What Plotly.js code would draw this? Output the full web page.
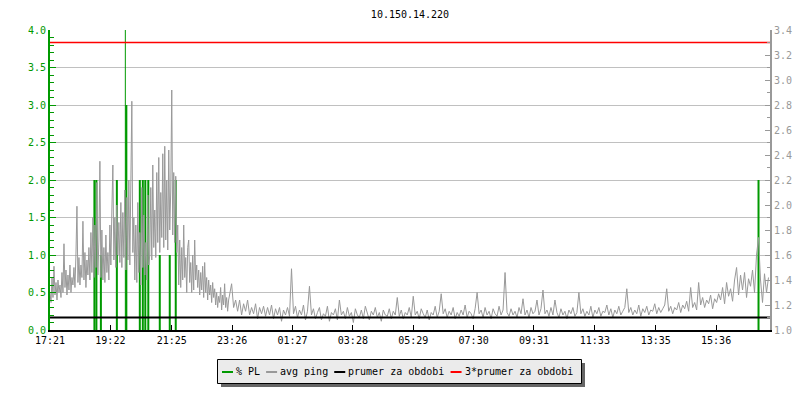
<!DOCTYPE html>
<html>
<head>
<meta charset="utf-8">
<script src="https://cdn.plot.ly/plotly-3.0.1.min.js"></script>
<style>html,body{margin:0;padding:0;background:#fff;}#chart{width:800px;height:400px;}</style>
</head>
<body>
<div id="chart"></div>
<script>
// ---- data ----
const chartTitle = '10.150.14.220';
const startTime = '2024-05-14 17:21';
const endTime = '2024-05-15 17:24';

// avg ping (right axis): busy evening part, one sample every 2 minutes from 17:21
const pingEarlyStepMin = 2;
const pingEarly = [
  1.30,1.22,1.42,1.26,1.51,1.28,1.38,1.24,1.40,1.30,
  1.36,1.26,1.46,1.30,1.69,1.34,1.48,1.28,1.44,1.32,1.52,1.30,1.42,1.36,1.50,
  1.34,1.60,1.99,1.38,1.58,1.36,1.52,1.42,1.87,1.40,1.62,1.34,1.56,1.44,1.66,
  1.40,1.78,1.46,1.90,1.42,1.84,1.50,2.18,1.44,1.72,
  2.35,1.42,1.80,1.40,1.66,1.38,1.76,1.46,1.62,1.40,
  1.84,1.52,1.96,2.32,1.56,1.90,1.50,2.00,1.60,1.86,
  1.54,2.02,1.50,1.94,1.58,2.12,1.48,2.06,1.56,2.20,1.52,2.44,2.83,1.62,1.90,
  1.40,1.84,1.38,2.02,1.46,1.78,1.36,2.14,1.50,1.92,1.44,1.70,1.40,2.08,1.52,
  1.60,2.14,1.56,2.32,1.66,1.96,1.58,2.26,1.70,2.38,1.62,2.10,1.74,2.41,1.66,
  2.47,1.72,2.20,1.64,2.44,1.80,2.12,2.92,1.76,2.26,1.70,2.23,1.62,
  1.84,1.36,1.72,1.34,1.66,1.40,1.84,
  1.42,1.58,1.30,1.66,1.72,1.38,1.54,1.30,1.60,1.32,1.72,1.40,1.52,1.34,1.48,
  1.28,1.46,1.32,1.51,1.26,1.54,1.30,1.42,1.24,1.40,1.28,1.36,1.22,1.38,1.26,
  1.33,1.20,1.30,1.18,1.27,1.22,1.34,1.16,1.28,1.20,1.37,1.18,1.26,1.15,1.24
];

// avg ping (right axis): quiet part, one sample every 4 minutes from 23:25
const pingLateStart = '2024-05-14 23:25';
const pingLateStepMin = 4;
const pingLate = [
  1.37,1.18,1.24,1.15,1.24,1.12,1.21,1.15,1.24,1.12,1.18,1.13,1.21,1.09,
  1.18,1.13,1.19,1.11,1.18,1.12,1.20,1.09,1.17,1.12,1.18,1.07,1.16,1.12,1.18,1.11,
  1.49,1.13,1.19,1.10,1.16,1.12,1.20,1.08,1.15,1.35,
  1.12,1.17,1.09,1.14,1.18,1.08,1.13,1.11,1.19,1.07,1.14,1.12,1.17,1.08,1.24,
  1.12,1.15,1.09,1.18,1.11,1.14,1.06,1.17,1.12,1.10,1.16,1.09,1.19,1.13,1.08,1.15,1.12,1.18,1.10,1.14,1.07,1.16,1.12,1.11,1.17,1.09,1.15,1.12,
  1.26,1.11,1.16,1.09,1.14,1.12,1.18,1.10,1.27,
  1.12,1.15,1.09,1.17,1.13,1.10,1.16,1.08,1.14,1.12,1.19,1.10,1.15,1.29,
  1.13,1.17,1.10,1.15,1.12,1.18,1.09,1.14,1.11,1.16,1.12,1.20,1.10,1.15,1.13,1.09,1.17,1.30,
  1.13,1.16,1.10,1.18,1.12,1.15,1.09,1.17,1.13,1.11,1.19,1.12,1.16,1.46,
  1.14,1.11,1.17,1.12,1.15,1.10,1.18,1.13,1.25,1.12,1.16,1.10,1.18,1.13,1.15,1.24,1.12,1.17,1.32,
  1.13,1.16,1.11,1.18,1.12,1.24,1.14,1.10,1.17,1.12,1.15,1.09,1.16,1.13,1.18,1.11,1.14,1.30,
  1.13,1.17,1.11,1.15,1.12,1.19,1.10,1.16,1.13,1.18,1.11,1.15,1.14,1.20,1.12,1.17,1.10,1.16,1.13,1.19,1.12,1.15,1.18,1.33,
  1.14,1.18,1.12,1.16,1.13,1.20,1.11,1.17,1.14,1.19,1.12,1.16,1.15,1.21,1.13,1.18,1.14,1.17,1.20,1.33,
  1.15,1.19,1.13,1.18,1.16,1.22,1.14,1.20,1.17,1.23,1.15,1.34,1.18,1.22,1.16,1.38,
  1.20,1.26,1.18,1.24,1.21,1.28,1.17,1.25,1.22,1.29,
  1.24,1.34,1.21,1.38,1.27,1.33,1.23,1.40,1.50,
  1.28,1.44,1.32,1.46,1.26,1.41,1.35,1.48,1.30,1.60,1.74,1.40,1.22,1.45,1.30,1.42
];

// packet loss events (left axis, %)
const plTimes = [
  '2024-05-14 18:50','2024-05-14 18:54','2024-05-14 19:03','2024-05-14 19:35',
  '2024-05-14 19:52','2024-05-14 19:54','2024-05-14 20:21','2024-05-14 20:27',
  '2024-05-14 20:32','2024-05-14 20:38','2024-05-14 21:01','2024-05-14 21:21',
  '2024-05-14 21:33','2024-05-15 17:01'
];
const plValues = [2, 2, 1, 2, 4, 3, 2, 2, 2, 2, 1, 1, 2, 2];
const plWidths = [2, 2, 2, 2, 1, 2, 2, 2, 2, 2, 2, 2, 2, 2];

const periodMean = 1.1;       // prumer za obdobi
const periodMean3 = 3.3;      // 3*prumer za obdobi

const tickTimes = [
  '2024-05-14 17:21','2024-05-14 19:22','2024-05-14 21:25','2024-05-14 23:26',
  '2024-05-15 01:27','2024-05-15 03:28','2024-05-15 05:29','2024-05-15 07:30',
  '2024-05-15 09:31','2024-05-15 11:33','2024-05-15 13:35','2024-05-15 15:36'
];
const tickLabels = ['17:21','19:22','21:25','23:26','01:27','03:28','05:29','07:30','09:31','11:33','13:35','15:36'];

const legendNames = ['% PL', 'avg ping', 'prumer za obdobi', '3*prumer za obdobi'];
const legendColors = ['#009900', '#999999', '#000000', '#ff0000'];

// ---- build ----
function pad(n){ return (n < 10 ? '0' : '') + n; }
function fmt(d){
  return d.getFullYear() + '-' + pad(d.getMonth()+1) + '-' + pad(d.getDate()) + ' ' +
         pad(d.getHours()) + ':' + pad(d.getMinutes()) + ':' + pad(d.getSeconds());
}
function parse(s){
  const [d, t] = s.split(' '); const [Y, M, D] = d.split('-').map(Number); const [h, m] = t.split(':').map(Number);
  return new Date(Y, M - 1, D, h, m, 0);
}
const tEarly = parse(startTime), tLate = parse(pingLateStart);
const pingTimes = pingEarly.map((_, i) => fmt(new Date(tEarly.getTime() + i * pingEarlyStepMin * 60000)))
  .concat(pingLate.map((_, i) => fmt(new Date(tLate.getTime() + i * pingLateStepMin * 60000))));
const pingValues = pingEarly.concat(pingLate);

const FONT = 'DejaVu Sans Mono';
const traces = [];
plTimes.forEach((t, i) => {
  traces.push({ x: [t, t], y: [0, plValues[i]], type: 'scatter', mode: 'lines',
    line: { color: legendColors[0], width: plWidths[i] }, yaxis: 'y', name: legendNames[0], showlegend: false });
});
traces.push(
  { x: pingTimes, y: pingValues, type: 'scatter', mode: 'lines', line: { color: legendColors[1], width: 1 },
    yaxis: 'y2', name: legendNames[1], showlegend: false },
  { x: [startTime, endTime], y: [periodMean, periodMean], type: 'scatter', mode: 'lines',
    line: { color: legendColors[2], width: 2 }, yaxis: 'y2', name: legendNames[2], showlegend: false },
  { x: [startTime, endTime], y: [periodMean3, periodMean3], type: 'scatter', mode: 'lines',
    line: { color: legendColors[3], width: 1.5 }, yaxis: 'y2', name: legendNames[3], showlegend: false }
);

// manual legend (pixel layout converted to paper coordinates)
const L = 50, R = 770, T = 30, B = 330;
const px = v => (v - L) / (R - L);
const py = v => (B - v) / (B - T);
const shapes = [
  { type: 'rect', xref: 'paper', yref: 'paper', x0: px(221), x1: px(585), y0: py(387), y1: py(363),
    fillcolor: '#666666', line: { width: 0 } },
  { type: 'rect', xref: 'paper', yref: 'paper', x0: px(217.5), x1: px(581.5), y0: py(383.5), y1: py(359.5),
    fillcolor: '#ebebeb', line: { color: '#000000', width: 1 } }
];
const annotations = [];
let cx = 222;
const charW = 6.02;
legendNames.forEach((name, i) => {
  shapes.push({ type: 'line', xref: 'paper', yref: 'paper', x0: px(cx), x1: px(cx + 11), y0: py(372), y1: py(372),
    line: { color: legendColors[i], width: 2 } });
  annotations.push({ xref: 'paper', yref: 'paper', x: px(cx + 13), y: py(371.5), xanchor: 'left', yanchor: 'middle',
    text: name, showarrow: false, borderpad: 0, font: { family: FONT, size: 10, color: '#000000' } });
  cx += 11 + 3 + name.length * charW + 6;
});

const layout = {
  width: 800, height: 400,
  margin: { l: L, r: 800 - R, t: T, b: 400 - B, pad: 0 },
  paper_bgcolor: '#ffffff', plot_bgcolor: '#ffffff',
  showlegend: false,
  title: { text: chartTitle, font: { family: FONT, size: 10, color: '#000000' },
           x: 0.5, xref: 'paper', y: 1 - 14 / 400, yref: 'container', yanchor: 'middle' },
  xaxis: {
    type: 'date', range: [startTime, endTime], showgrid: false, zeroline: false,
    tickmode: 'array', tickvals: tickTimes, ticktext: tickLabels,
    ticks: 'inside', ticklen: 5, tickcolor: '#000000', tickwidth: 1,
    showline: true, linecolor: '#000000', linewidth: 2,
    tickfont: { family: FONT, size: 10, color: '#000000' }
  },
  yaxis: {
    range: [0, 4], dtick: 0.5, tick0: 0, tickformat: '.1f',
    showgrid: true, gridcolor: '#c0c0c0', gridwidth: 1, zeroline: false,
    ticks: 'inside', ticklen: 6, tickcolor: '#009900', tickwidth: 1,
    minor: { dtick: 0.1, ticks: 'inside', ticklen: 4, tickcolor: '#009900', showgrid: false },
    showline: true, linecolor: '#009900', linewidth: 2,
    tickfont: { family: FONT, size: 10, color: '#009900' }
  },
  yaxis2: {
    overlaying: 'y', side: 'right', range: [1.0, 3.4], dtick: 0.2, tick0: 1.0, tickformat: '.1f',
    showgrid: false, zeroline: false,
    ticks: 'inside', ticklen: 5, tickcolor: '#999999', tickwidth: 1,
    minor: { dtick: 0.1, ticks: 'inside', ticklen: 3, tickcolor: '#999999', showgrid: false },
    showline: true, linecolor: '#999999', linewidth: 2,
    tickfont: { family: FONT, size: 10, color: '#999999' }
  },
  shapes: shapes,
  annotations: annotations
};

Plotly.newPlot('chart', traces, layout, { staticPlot: true, displayModeBar: false });
</script>
</body>
</html>
